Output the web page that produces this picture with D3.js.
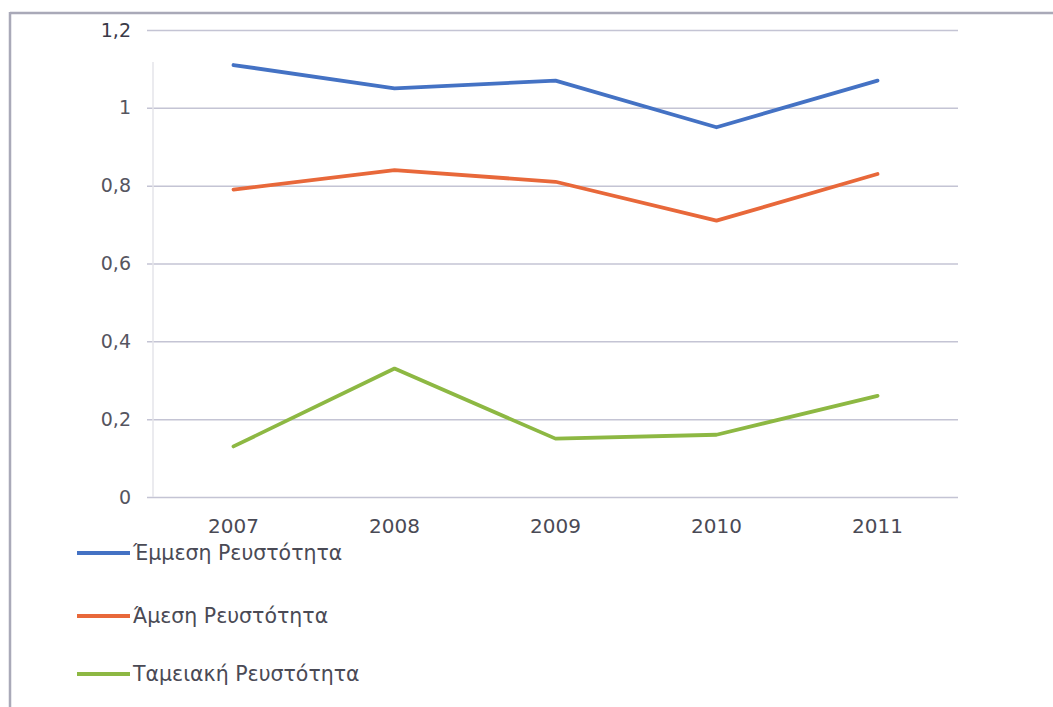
<!DOCTYPE html>
<html>
<head>
<meta charset="utf-8">
<script src="https://cdn.jsdelivr.net/npm/d3@7"></script>
<style>
  html, body { margin: 0; padding: 0; background: #fff; }
  svg { display: block; }
</style>
</head>
<body>
<svg id="chart" width="1053" height="707"></svg>
<script>
// Liquidity ratios per year
const years = ["2007", "2008", "2009", "2010", "2011"];
const seriesNames = ["Έμμεση Ρευστότητα", "Άμεση Ρευστότητα", "Ταμειακή Ρευστότητα"];
const currentRatio = [1.11, 1.05, 1.07, 0.95, 1.07];
const quickRatio = [0.79, 0.84, 0.81, 0.71, 0.83];
const cashRatio = [0.13, 0.33, 0.15, 0.16, 0.26];
const yTicks = [0, 0.2, 0.4, 0.6, 0.8, 1, 1.2];
const seriesColors = ["#4472C4", "#E8683A", "#8DB843"];

const series = [currentRatio, quickRatio, cashRatio].map((values, i) => ({
  name: seriesNames[i], color: seriesColors[i], values
}));

const svg = d3.select("#chart");
const font = "'DejaVu Sans', 'Open Sans', sans-serif";

// frame
svg.append("line").attr("x1", 10).attr("x2", 1053).attr("y1", 13).attr("y2", 13)
  .attr("stroke", "#a9a9b8").attr("stroke-width", 2.5);
svg.append("line").attr("x1", 10).attr("x2", 10).attr("y1", 12).attr("y2", 707)
  .attr("stroke", "#a9a9b8").attr("stroke-width", 2.5);

const plot = { left: 153, right: 958, top: 30, bottom: 497 };

const x = d3.scaleBand().domain(years).range([plot.left, plot.right]).padding(0);
const y = d3.scaleLinear().domain([0, 1.2]).range([plot.bottom, plot.top]);

const locale = d3.formatLocale({ decimal: ",", thousands: ".", grouping: [3], currency: ["", "€"] });
const fmt = locale.format("~g");

// y axis with gridlines
const yAxis = svg.append("g")
  .attr("transform", `translate(${plot.left},0)`)
  .call(d3.axisLeft(y).tickValues(yTicks).tickFormat(fmt)
    .tickSize(-(plot.right - plot.left)).tickSizeOuter(0).tickPadding(22));
yAxis.select(".domain").remove();
yAxis.selectAll(".tick line")
  .attr("x1", -6)
  .attr("stroke", "#c4c4d4").attr("stroke-width", 1.5);
yAxis.selectAll(".tick text")
  .attr("font-family", font).attr("font-size", 19)
  .attr("fill", d => d === 1.2 ? "#3a3a48" : "#555560");

// faint plot-area left edge
svg.append("line").attr("x1", plot.left).attr("x2", plot.left)
  .attr("y1", 62).attr("y2", plot.bottom)
  .attr("stroke", "#e4e4ea").attr("stroke-width", 1.5);

// x axis labels
const xAxis = svg.append("g")
  .attr("transform", `translate(0,${plot.bottom})`)
  .call(d3.axisBottom(x).tickSize(0).tickPadding(22));
xAxis.select(".domain").remove();
xAxis.selectAll(".tick text")
  .attr("font-family", font).attr("font-size", 20).attr("fill", "#4a4a55");

// lines
const line = d3.line()
  .x((d, i) => x(years[i]) + x.bandwidth() / 2)
  .y(d => y(d));

svg.append("g").selectAll("path")
  .data(series)
  .join("path")
  .attr("d", d => line(d.values))
  .attr("fill", "none")
  .attr("stroke", d => d.color)
  .attr("stroke-width", 3.8)
  .attr("stroke-linejoin", "round")
  .attr("stroke-linecap", "round");

// legend
const legend = svg.append("g").attr("transform", "translate(77,553)");
const rows = legend.selectAll("g")
  .data(series)
  .join("g")
  .attr("transform", (d, i) => `translate(0,${[0, 63, 121][i]})`);
rows.append("line")
  .attr("x1", 0).attr("x2", 53).attr("y1", 0).attr("y2", 0)
  .attr("stroke", d => d.color).attr("stroke-width", 3.8);
rows.append("text")
  .attr("x", 56).attr("y", 0).attr("dy", "0.35em")
  .attr("font-family", font).attr("font-size", 20.5)
  .attr("fill", "#4a4a55")
  .text(d => d.name);
</script>
</body>
</html>
